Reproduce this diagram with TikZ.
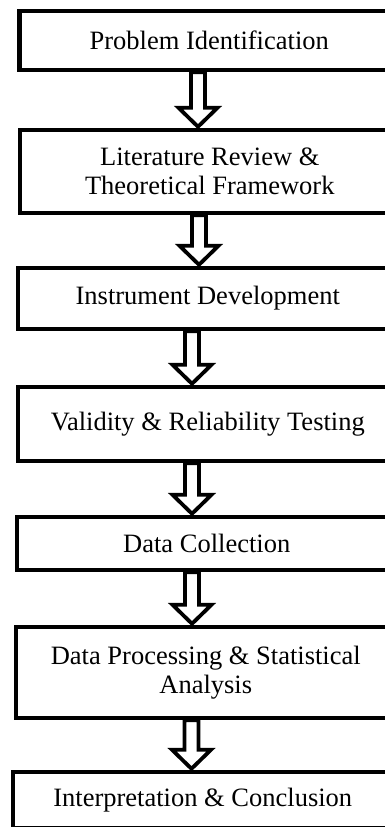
\documentclass[tikz,border=0pt]{standalone}
\usepackage{fontspec}
\setmainfont{Liberation Serif}
\usetikzlibrary{calc,backgrounds}
\tikzset{
  box/.style={draw=black, line width=4.5pt, fill=white, rectangle, minimum width=380pt,
    anchor=west, align=center, inner sep=0pt,
    font=\fontsize{26.5}{29}\selectfont},
  barrow/.style={draw=black, fill=white, line width=3.8pt, line join=miter}
}
\newcommand\blockarrow[3]{%
  \begin{pgfonlayer}{background}
  \path[barrow] let \p1=(#1.south), \p2=(#2.north) in
    ({#3pt-7pt},\y1) -- ({#3pt-7pt},{\y2+20pt}) -- ({#3pt-19.5pt},{\y2+20pt})
    -- ({#3pt},{\y2+1pt}) -- ({#3pt+19.5pt},{\y2+20pt}) -- ({#3pt+7pt},{\y2+20pt})
    -- ({#3pt+7pt},\y1) -- cycle;
  \end{pgfonlayer}}
\begin{document}
\begin{tikzpicture}[x=1pt,y=-1pt]
\useasboundingbox (0,0) rectangle (385,827);
\clip (0,0) rectangle (385,827);
\node[box, minimum height=59pt] (b1) at (17,40.5) {Problem Identification};
\node[box, minimum height=83pt] (b2) at (17.5,171.5) {Literature Review \&\\Theoretical Framework};
\node[box, minimum height=61pt] (b3) at (15.5,298.5) {Instrument Development};
\node[box, minimum height=74pt] (b4) at (15.5,424) {Validity \& Reliability Testing};
\node[box, minimum height=53pt] (b5) at (14.5,543.5) {Data Collection};
\node[box, minimum height=91pt] (b6) at (13.5,672.5) {Data Processing \& Statistical\\Analysis};
\node[box, minimum height=56pt] (b7) at (10.5,800) {Interpretation \& Conclusion};
\blockarrow{b1}{b2}{198}
\blockarrow{b2}{b3}{199}
\blockarrow{b3}{b4}{192}
\blockarrow{b4}{b5}{192}
\blockarrow{b5}{b6}{192}
\blockarrow{b6}{b7}{191.5}
\end{tikzpicture}
\end{document}
